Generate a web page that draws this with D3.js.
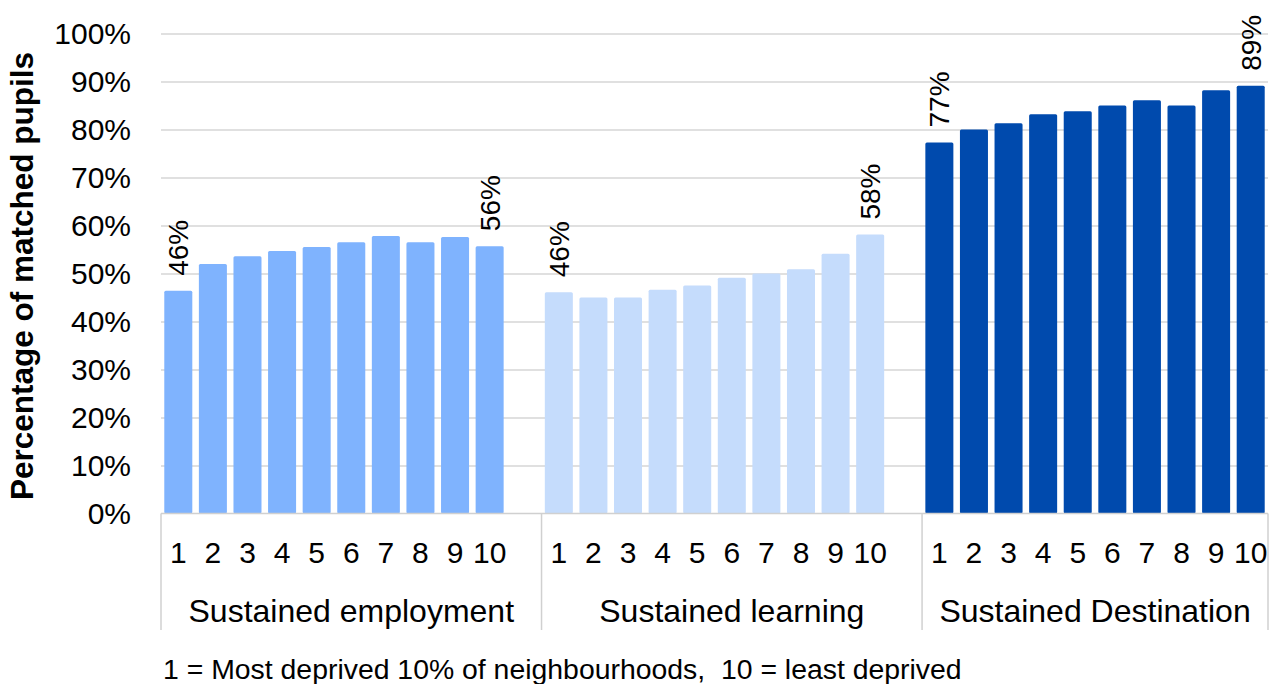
<!DOCTYPE html>
<html>
<head>
<meta charset="utf-8">
<script src="https://cdn.jsdelivr.net/npm/d3@7"></script>
<style>
  html, body { margin: 0; padding: 0; background: #fff; }
  svg { display: block; font-family: "Liberation Sans", Arial, sans-serif; }
</style>
</head>
<body>
<svg id="chart" width="1272" height="684"></svg>
<script>
// ---- data ----
const groups = ["Sustained employment", "Sustained learning", "Sustained Destination"];
const deciles = ["1", "2", "3", "4", "5", "6", "7", "8", "9", "10"];
const employment = [46.4, 52.0, 53.6, 54.7, 55.5, 56.5, 57.8, 56.5, 57.6, 55.7];
const learning = [46.1, 45.0, 45.0, 46.6, 47.5, 49.1, 50.0, 50.9, 54.1, 58.1];
const destination = [77.3, 80.0, 81.3, 83.2, 83.8, 85.0, 86.1, 85.0, 88.2, 89.1];
const yTicks = [0, 10, 20, 30, 40, 50, 60, 70, 80, 90, 100];
const colors = ["#7fb3fe", "#c5dcfc", "#004aad"];
const yTitle = "Percentage of matched pupils";
const footnote = "1 = Most deprived 10% of neighbourhoods,  10 = least deprived";

const series = [employment, learning, destination];

// ---- layout ----
const svg = d3.select("#chart");
const plotLeft = 161, plotRight = 1268, plotTop = 33.5, plotBottom = 513.5;

// slot keys: 10 per group, with one empty slot between groups
const slots = [];
groups.forEach((g, gi) => {
  deciles.forEach(d => slots.push(gi + "-" + d));
  if (gi < groups.length - 1) slots.push(gi + "-gap");
});

const x = d3.scaleBand().domain(slots).range([plotLeft, plotRight])
  .paddingInner(0.19).paddingOuter(0.095);
const y = d3.scaleLinear().domain([0, 100]).range([plotBottom, plotTop]);

// gridlines
svg.append("g")
  .attr("transform", `translate(${plotLeft},0)`)
  .call(d3.axisLeft(y).tickValues(yTicks.slice(1)).tickSize(-(plotRight - plotLeft)).tickFormat(""))
  .call(g => g.select(".domain").remove())
  .call(g => g.selectAll("line").attr("stroke", "#d6d6d6").attr("stroke-width", 1.5));

// y tick labels
svg.append("g")
  .attr("transform", `translate(${plotLeft},0)`)
  .call(d3.axisLeft(y).tickValues(yTicks).tickSize(0).tickPadding(30).tickFormat(d => d + "%"))
  .call(g => g.select(".domain").remove())
  .call(g => g.selectAll("text").attr("font-size", 30).attr("fill", "#000")
    .attr("font-family", "'Liberation Sans', Arial, sans-serif"));

// bars
const bars = [];
groups.forEach((g, gi) => deciles.forEach((d, di) => bars.push({ gi, di, key: gi + "-" + d, v: series[gi][di] })));

svg.append("g").selectAll("rect").data(bars).join("rect")
  .attr("x", d => x(d.key))
  .attr("width", x.bandwidth())
  .attr("y", d => y(d.v))
  .attr("height", d => y(0) - y(d.v))
  .attr("rx", 1.5)
  .attr("fill", d => colors[d.gi]);

// data labels (first & last of each group)
const fmt = d3.format(".0f");
svg.append("g").selectAll("text")
  .data(bars.filter(d => d.di === 0 || d.di === deciles.length - 1))
  .join("text")
  .attr("transform", d => `translate(${x(d.key) + x.bandwidth() / 2 + 10},${y(d.v) - 15}) rotate(-90)`)
  .attr("font-size", 28)
  .attr("fill", "#000")
  .text(d => fmt(d.v) + "%");

// category axis
const axisG = svg.append("g");
axisG.append("line")
  .attr("x1", plotLeft).attr("x2", plotRight).attr("y1", plotBottom).attr("y2", plotBottom)
  .attr("stroke", "#d0d0d0").attr("stroke-width", 1.5);

const half = (x.step() - x.bandwidth()) / 2;
const sepX = groups.map((g, gi) => x(gi + "-1") - half).concat([plotRight]);
axisG.selectAll("line.sep").data(sepX).join("line")
  .attr("class", "sep")
  .attr("x1", d => d).attr("x2", d => d)
  .attr("y1", plotBottom).attr("y2", 630)
  .attr("stroke", "#d0d0d0").attr("stroke-width", 1.5);

// decile labels
axisG.selectAll("text.dec").data(bars).join("text")
  .attr("class", "dec")
  .attr("x", d => x(d.key) + x.bandwidth() / 2)
  .attr("y", 563)
  .attr("text-anchor", "middle")
  .attr("font-size", 30)
  .text(d => deciles[d.di]);

// group labels, centred on each group's span (between separators)
axisG.selectAll("text.grp").data(groups).join("text")
  .attr("class", "grp")
  .attr("x", (d, gi) => (sepX[gi] + sepX[gi + 1]) / 2)
  .attr("y", 622)
  .attr("text-anchor", "middle")
  .attr("font-size", 32)
  .text(d => d);

// y axis title
svg.append("text")
  .attr("transform", `translate(33,276) rotate(-90)`)
  .attr("text-anchor", "middle")
  .attr("font-size", 31.5)
  .attr("font-weight", "bold")
  .text(yTitle);

// footnote
svg.append("text")
  .attr("x", 163).attr("y", 679)
  .attr("font-size", 28.4)
  .style("white-space", "pre")
  .text(footnote);
</script>
</body>
</html>
